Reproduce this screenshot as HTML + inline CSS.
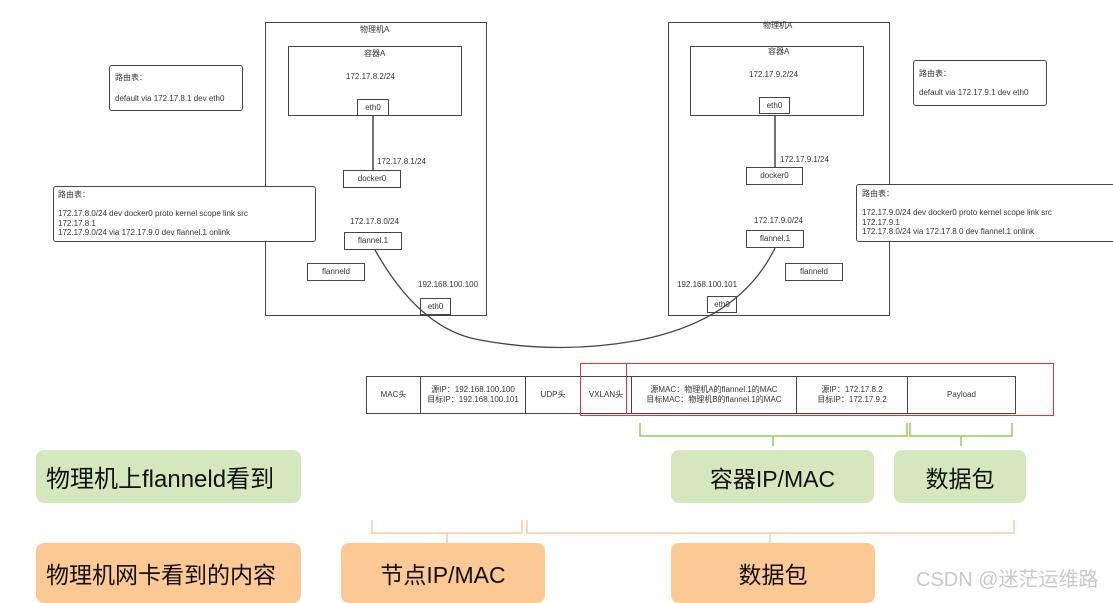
<!DOCTYPE html>
<html><head><meta charset="utf-8"><style>
body{margin:0;width:1113px;height:595px;background:#fff;position:relative;overflow:hidden;font-family:"Liberation Sans","Noto Sans CJK SC",sans-serif;}
.b{position:absolute;border:1.5px solid #444;box-sizing:border-box;background:#fff;}
.t{position:absolute;font-size:8px;color:#333;white-space:nowrap;}
.c{display:flex;align-items:center;justify-content:center;font-size:8px;color:#333;text-align:center;line-height:10px;}
.g{position:absolute;border-radius:8px;display:flex;align-items:center;justify-content:center;font-size:23px;color:#111;}
</style></head><body>
<svg width="1113" height="595" style="position:absolute;left:0;top:0">
<line x1="373" y1="116" x2="373" y2="170" stroke="#444" stroke-width="1.5"/>
<line x1="775" y1="114" x2="775" y2="167" stroke="#444" stroke-width="1.5"/>
<path d="M375 250 Q 420 330 480 340 Q 560 355 640 340 Q 740 320 775 248" fill="none" stroke="#444" stroke-width="1.3"/>
<path d="M640 423 V436 H773 V446 M773 436 H907 V423 M910 423 V436 H961 V446 M961 436 H1012 V423" fill="none" stroke="#92d050" stroke-width="1.5"/>
<path d="M372 520 V533 H447 V543 M447 533 H522 V520 M527 520 V533 H770 V543 M770 533 H1014 V520" fill="none" stroke="#f8cba0" stroke-width="1.5"/>
</svg>
<div class="b" style="left:265px;top:22px;width:222px;height:294px;background:transparent"></div>
<div class="t" style="left:360px;top:24px">物理机A</div>
<div class="b" style="left:288px;top:46px;width:174px;height:70px"></div>
<div class="t" style="left:364px;top:48px">容器A</div>
<div class="t" style="left:346px;top:72px">172.17.8.2/24</div>
<div class="b c" style="left:357px;top:99px;width:32px;height:17px">eth0</div>
<div class="t" style="left:377px;top:157px">172.17.8.1/24</div>
<div class="b c" style="left:343px;top:170px;width:58px;height:18px">docker0</div>
<div class="t" style="left:350px;top:217px">172.17.8.0/24</div>
<div class="b c" style="left:344px;top:232px;width:58px;height:18px">flannel.1</div>
<div class="b c" style="left:307px;top:263px;width:58px;height:18px">flanneld</div>
<div class="t" style="left:418px;top:280px">192.168.100.100</div>
<div class="b c" style="left:420px;top:298px;width:31px;height:17px;background:transparent">eth0</div>

<div class="b" style="left:668px;top:22px;width:222px;height:294px;background:transparent"></div>
<div class="t" style="left:763px;top:20px">物理机A</div>
<div class="b" style="left:690px;top:46px;width:174px;height:70px"></div>
<div class="t" style="left:768px;top:46px">容器A</div>
<div class="t" style="left:749px;top:70px">172.17.9.2/24</div>
<div class="b c" style="left:759px;top:97px;width:31px;height:17px">eth0</div>
<div class="t" style="left:780px;top:155px">172.17.9.1/24</div>
<div class="b c" style="left:746px;top:167px;width:57px;height:18px">docker0</div>
<div class="t" style="left:754px;top:216px">172.17.9.0/24</div>
<div class="b c" style="left:746px;top:230px;width:58px;height:18px">flannel.1</div>
<div class="b c" style="left:785px;top:263px;width:58px;height:18px">flanneld</div>
<div class="t" style="left:677px;top:280px">192.168.100.101</div>
<div class="b c" style="left:707px;top:296px;width:30px;height:17px;background:transparent">eth0</div>

<div class="b" style="left:109px;top:65px;width:134px;height:46px;border-radius:3px"></div>
<div class="t" style="left:115px;top:72px">路由表：</div>
<div class="t" style="left:115px;top:94px">default via 172.17.8.1 dev eth0</div>
<div class="b" style="left:53px;top:186px;width:263px;height:56px;border-radius:3px"></div>
<div class="t" style="left:58px;top:190px;line-height:9.5px">路由表：<br><br>172.17.8.0/24 dev docker0  proto kernel  scope link  src<br>172.17.8.1<br>172.17.9.0/24 via 172.17.9.0 dev flannel.1 onlink</div>
<div class="b" style="left:913px;top:60px;width:134px;height:46px;border-radius:3px"></div>
<div class="t" style="left:919px;top:68px">路由表：</div>
<div class="t" style="left:919px;top:88px">default via 172.17.9.1 dev eth0</div>
<div class="b" style="left:856px;top:184px;width:262px;height:58px;border-radius:3px"></div>
<div class="t" style="left:862px;top:189px;line-height:9.5px">路由表：<br><br>172.17.9.0/24 dev docker0  proto kernel  scope link  src<br>172.17.9.1<br>172.17.8.0/24 via 172.17.8.0 dev flannel.1 onlink</div>

<div class="b c" style="left:366px;top:376px;width:55px;height:38px">MAC头</div>
<div class="b c" style="left:420px;top:376px;width:106px;height:38px">源IP：192.168.100.100<br>目标IP：192.168.100.101</div>
<div class="b c" style="left:525px;top:376px;width:56px;height:38px">UDP头</div>
<div class="b c" style="left:580px;top:376px;width:52px;height:38px">VXLAN头</div>
<div class="b c" style="left:631px;top:376px;width:166px;height:38px">源MAC：物理机A的flannel.1的MAC<br>目标MAC：物理机B的flannel.1的MAC</div>
<div class="b c" style="left:796px;top:376px;width:112px;height:38px">源IP：172.17.8.2<br>目标IP：172.17.9.2</div>
<div class="b c" style="left:907px;top:376px;width:109px;height:38px">Payload</div>
<div style="position:absolute;left:580px;top:363px;width:472px;height:51px;border:1px solid #e33;"></div>
<div style="position:absolute;left:626px;top:363px;width:0;height:51px;border-left:1px solid #e33;"></div>

<div class="g" style="left:36px;top:450px;width:265px;height:53px;background:#d5e8bd;justify-content:flex-start;padding-left:10px;box-sizing:border-box;font-size:24px">物理机上flanneld看到</div>
<div class="g" style="left:671px;top:450px;width:203px;height:53px;background:#d5e8bd">容器IP/MAC</div>
<div class="g" style="left:894px;top:450px;width:132px;height:53px;background:#d5e8bd">数据包</div>
<div class="g" style="left:36px;top:543px;width:265px;height:60px;background:#fcc894;justify-content:flex-start;padding-left:10px;box-sizing:border-box">物理机网卡看到的内容</div>
<div class="g" style="left:341px;top:543px;width:204px;height:60px;background:#fcc894">节点IP/MAC</div>
<div class="g" style="left:671px;top:543px;width:204px;height:60px;background:#fcc894">数据包</div>
<div class="t" style="left:916px;top:563px;font-size:20px;color:#c8c8c8">CSDN @迷茫运维路</div>
</body></html>
